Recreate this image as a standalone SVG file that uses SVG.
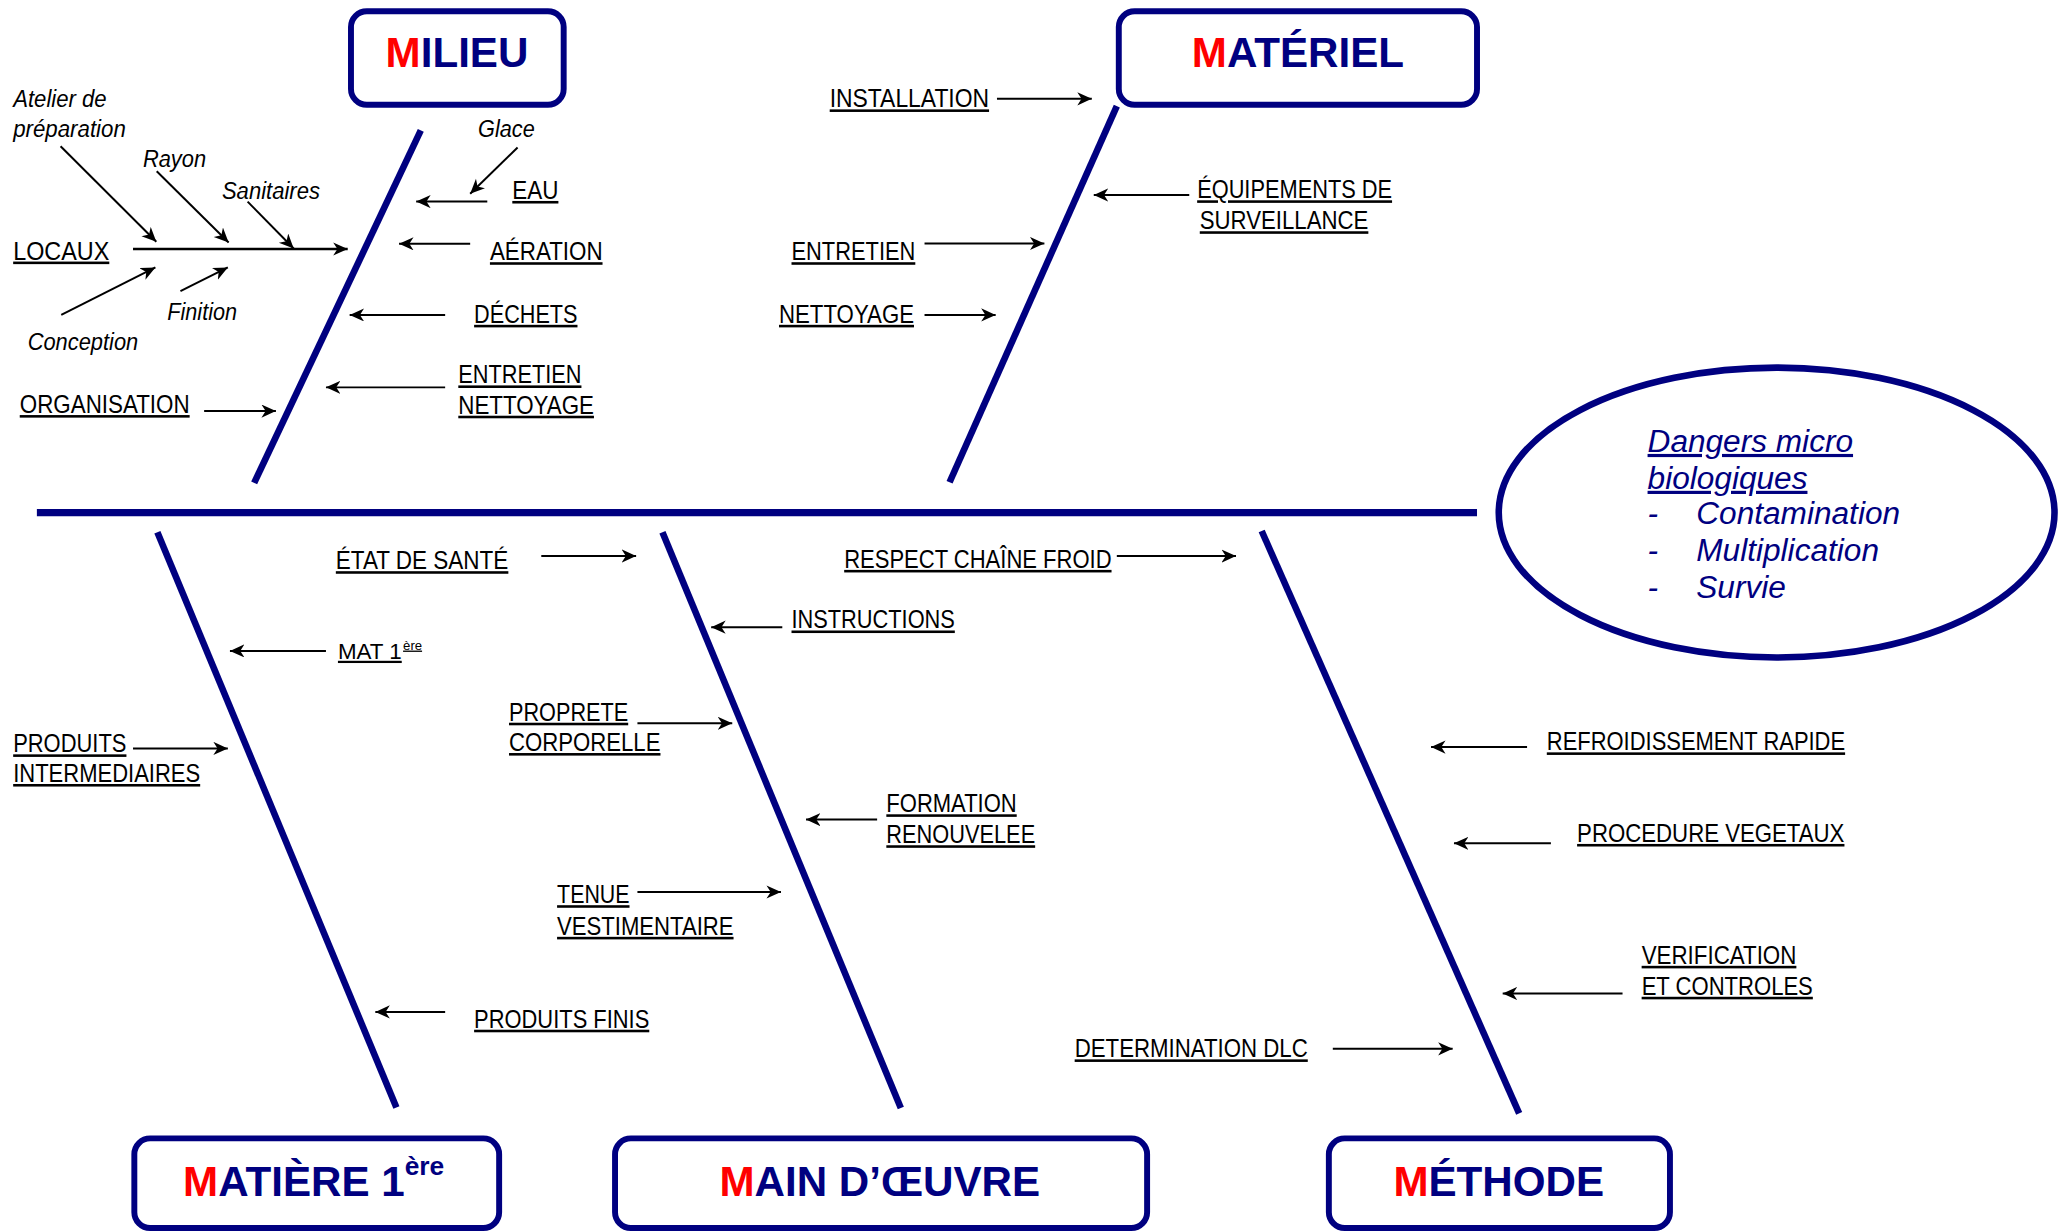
<svg xmlns="http://www.w3.org/2000/svg" width="2065" height="1232" viewBox="0 0 2065 1232">
<style>
.box{fill:#fff;stroke:#000080;stroke-width:4.5}
.title{font-family:"Liberation Sans",Arial,sans-serif;font-weight:bold;font-size:32px;fill:#000080}
.red{fill:#ff0000}
.lbl{font-family:"Liberation Sans Narrow","Liberation Sans",Arial,sans-serif;font-size:19.5px;fill:#000;text-decoration:underline}
.it{font-family:"Liberation Sans Narrow","Liberation Sans",Arial,sans-serif;font-style:italic;font-size:18.5px;fill:#000}
.bone{stroke:#000080;stroke-width:5;fill:none}
.arr{stroke:#000;stroke-width:1.5;fill:none;marker-end:url(#ah)}
.eff{font-family:"Liberation Sans",Arial,sans-serif;font-style:italic;font-size:24px;fill:#000080}
.ell{fill:#fff;stroke:#000080;stroke-width:5}
</style>
<defs>
<marker id="ah" markerUnits="userSpaceOnUse" markerWidth="12" markerHeight="11" refX="11" refY="5" orient="auto" viewBox="0 0 12 11">
<path d="M0,0 L11,5 L0,10 L3.2,5 Z" fill="#000"/>
</marker>
</defs>
<rect width="2065" height="1232" fill="#fff"/>
<g transform="scale(1.317,1.3176)">
<g id="connectors">
<line class="bone" x1="28" y1="389" x2="1121.5" y2="389" style="stroke-width:5.5"/>
<line class="bone" x1="319.5" y1="99" x2="193" y2="366.5"/>
<line class="bone" x1="848" y1="80.5" x2="721" y2="366"/>
<line class="bone" x1="119.5" y1="404" x2="301" y2="840.5"/>
<line class="bone" x1="503" y1="404" x2="684" y2="841"/>
<line class="bone" x1="958" y1="403" x2="1153.5" y2="845"/>
<line class="arr" x1="101" y1="189" x2="264" y2="189" style="stroke-width:2"/>
<line class="arr" x1="46" y1="111" x2="118.7" y2="183.5"/>
<line class="arr" x1="119" y1="130" x2="173.6" y2="184"/>
<line class="arr" x1="188" y1="153" x2="223" y2="188.6"/>
<line class="arr" x1="46.5" y1="239" x2="118" y2="203"/>
<line class="arr" x1="137" y1="221" x2="173" y2="203"/>
<line class="arr" x1="393" y1="112" x2="357" y2="147"/>
<line class="arr" x1="370" y1="153" x2="316" y2="153"/>
<line class="arr" x1="357" y1="185" x2="303" y2="185"/>
<line class="arr" x1="338" y1="239" x2="265.5" y2="239"/>
<line class="arr" x1="338" y1="294" x2="247.5" y2="294"/>
<line class="arr" x1="155" y1="312" x2="209.5" y2="312"/>
<line class="arr" x1="757" y1="75" x2="829" y2="75"/>
<line class="arr" x1="903" y1="148" x2="830.5" y2="148"/>
<line class="arr" x1="702" y1="184.8" x2="793" y2="184.8"/>
<line class="arr" x1="702" y1="239" x2="756" y2="239"/>
<line class="arr" x1="247.5" y1="494" x2="174.6" y2="494"/>
<line class="arr" x1="101" y1="568" x2="173" y2="568"/>
<line class="arr" x1="338" y1="768" x2="285" y2="768"/>
<line class="arr" x1="411" y1="422" x2="483" y2="422"/>
<line class="arr" x1="594" y1="476" x2="540" y2="476"/>
<line class="arr" x1="484" y1="549" x2="556" y2="549"/>
<line class="arr" x1="666" y1="622" x2="612" y2="622"/>
<line class="arr" x1="484" y1="677" x2="593" y2="677"/>
<line class="arr" x1="848" y1="422" x2="938.5" y2="422"/>
<line class="arr" x1="1159.5" y1="567" x2="1086.6" y2="567"/>
<line class="arr" x1="1177.6" y1="640" x2="1104" y2="640"/>
<line class="arr" x1="1232" y1="754" x2="1141" y2="754"/>
<line class="arr" x1="1012" y1="796" x2="1103" y2="796"/>
</g>
<g id="milieu">
<rect class="box" x="266.5" y="8.5" width="161.5" height="71" rx="12"/>
<text class="title" x="347" y="51" text-anchor="middle"><tspan class="red">M</tspan>ILIEU</text>
</g>
<g id="materiel">
<rect class="box" x="849.5" y="8.5" width="272" height="71" rx="12"/>
<text class="title" x="985.5" y="51" text-anchor="middle"><tspan class="red">M</tspan>ATÉRIEL</text>
</g>
<g id="matiere">
<rect class="box" x="102" y="864" width="277" height="68" rx="12"/>
<text class="title" x="139" y="908"><tspan class="red">M</tspan>ATIÈRE 1<tspan font-size="20" dy="-16">ère</tspan></text>
</g>
<g id="main-oeuvre">
<rect class="box" x="467" y="864" width="404" height="68" rx="12"/>
<text class="title" x="668" y="908" text-anchor="middle"><tspan class="red">M</tspan>AIN D’ŒUVRE</text>
</g>
<g id="methode">
<rect class="box" x="1009" y="864" width="259" height="68" rx="12"/>
<text class="title" x="1138" y="908" text-anchor="middle"><tspan class="red">M</tspan>ÉTHODE</text>
</g>
<g id="effet">
<ellipse class="ell" cx="1349" cy="389" rx="211" ry="110"/>
<text class="eff" x="1251" y="343" text-decoration="underline">Dangers micro</text>
<text class="eff" x="1251" y="371" text-decoration="underline">biologiques</text>
<text class="eff" x="1251" y="398">-</text><text class="eff" x="1288" y="398">Contamination</text>
<text class="eff" x="1251" y="426">-</text><text class="eff" x="1288" y="426">Multiplication</text>
<text class="eff" x="1251" y="454">-</text><text class="eff" x="1288" y="454">Survie</text>
</g>
<g id="locaux">
<text class="lbl" x="10" y="197" textLength="73" lengthAdjust="spacingAndGlyphs">LOCAUX</text>
<text class="it" x="10" y="81" textLength="71" lengthAdjust="spacingAndGlyphs">Atelier de</text>
<text class="it" x="10" y="104" textLength="85.5" lengthAdjust="spacingAndGlyphs">préparation</text>
<text class="it" x="108.5" y="127" textLength="48" lengthAdjust="spacingAndGlyphs">Rayon</text>
<text class="it" x="168.5" y="151" textLength="74.5" lengthAdjust="spacingAndGlyphs">Sanitaires</text>
<text class="it" x="21" y="266" textLength="84" lengthAdjust="spacingAndGlyphs">Conception</text>
<text class="it" x="127" y="243" textLength="53" lengthAdjust="spacingAndGlyphs">Finition</text>
</g>
<g id="organisation"><text class="lbl" x="15" y="313.5" textLength="129" lengthAdjust="spacingAndGlyphs">ORGANISATION</text></g>
<g id="eau">
<text class="it" x="363" y="104" textLength="43" lengthAdjust="spacingAndGlyphs">Glace</text>
<text class="lbl" x="389" y="151" textLength="35" lengthAdjust="spacingAndGlyphs">EAU</text>
</g>
<g id="aeration"><text class="lbl" x="372" y="197.5" textLength="85.5" lengthAdjust="spacingAndGlyphs">AÉRATION</text></g>
<g id="dechets"><text class="lbl" x="360" y="245" textLength="78.5" lengthAdjust="spacingAndGlyphs">DÉCHETS</text></g>
<g id="entretien-nettoyage">
<text class="lbl" x="348" y="291" textLength="93.5" lengthAdjust="spacingAndGlyphs">ENTRETIEN</text>
<text class="lbl" x="348" y="314" textLength="103" lengthAdjust="spacingAndGlyphs">NETTOYAGE</text>
</g>
<g id="installation"><text class="lbl" x="630" y="81.5" textLength="121" lengthAdjust="spacingAndGlyphs">INSTALLATION</text></g>
<g id="equipements">
<text class="lbl" x="909" y="150.5" textLength="148" lengthAdjust="spacingAndGlyphs">ÉQUIPEMENTS DE</text>
<text class="lbl" x="911" y="174" textLength="128" lengthAdjust="spacingAndGlyphs">SURVEILLANCE</text>
</g>
<g id="entretien"><text class="lbl" x="601" y="197.5" textLength="94" lengthAdjust="spacingAndGlyphs">ENTRETIEN</text></g>
<g id="nettoyage"><text class="lbl" x="591.5" y="245" textLength="102.5" lengthAdjust="spacingAndGlyphs">NETTOYAGE</text></g>
<g id="mat1ere"><text class="lbl" x="256.6" y="500" style="font-family:'Liberation Sans',Arial,sans-serif;font-size:17px">MAT 1<tspan font-size="10" dx="1" dy="-7">ère</tspan></text></g>
<g id="produits-intermediaires">
<text class="lbl" x="10" y="571" textLength="86" lengthAdjust="spacingAndGlyphs">PRODUITS</text>
<text class="lbl" x="10" y="593.5" textLength="142" lengthAdjust="spacingAndGlyphs">INTERMEDIAIRES</text>
</g>
<g id="produits-finis"><text class="lbl" x="360" y="780" textLength="133" lengthAdjust="spacingAndGlyphs">PRODUITS FINIS</text></g>
<g id="etat-sante"><text class="lbl" x="255" y="432" textLength="131" lengthAdjust="spacingAndGlyphs">ÉTAT DE SANTÉ</text></g>
<g id="instructions"><text class="lbl" x="601" y="477" textLength="124" lengthAdjust="spacingAndGlyphs">INSTRUCTIONS</text></g>
<g id="proprete">
<text class="lbl" x="386.5" y="547" textLength="90.5" lengthAdjust="spacingAndGlyphs">PROPRETE</text>
<text class="lbl" x="386.5" y="570" textLength="115" lengthAdjust="spacingAndGlyphs">CORPORELLE</text>
</g>
<g id="formation">
<text class="lbl" x="673" y="616.5" textLength="99" lengthAdjust="spacingAndGlyphs">FORMATION</text>
<text class="lbl" x="673" y="640" textLength="113" lengthAdjust="spacingAndGlyphs">RENOUVELEE</text>
</g>
<g id="tenue">
<text class="lbl" x="423" y="685.5" textLength="55" lengthAdjust="spacingAndGlyphs">TENUE</text>
<text class="lbl" x="423" y="709.5" textLength="134" lengthAdjust="spacingAndGlyphs">VESTIMENTAIRE</text>
</g>
<g id="chaine-froid"><text class="lbl" x="641" y="431" textLength="203" lengthAdjust="spacingAndGlyphs">RESPECT CHAÎNE FROID</text></g>
<g id="refroidissement"><text class="lbl" x="1174.5" y="569.5" textLength="226.5" lengthAdjust="spacingAndGlyphs">REFROIDISSEMENT RAPIDE</text></g>
<g id="vegetaux"><text class="lbl" x="1197.5" y="639" textLength="203" lengthAdjust="spacingAndGlyphs">PROCEDURE VEGETAUX</text></g>
<g id="verification">
<text class="lbl" x="1246.5" y="731.5" textLength="117.5" lengthAdjust="spacingAndGlyphs">VERIFICATION</text>
<text class="lbl" x="1246.5" y="755" textLength="130" lengthAdjust="spacingAndGlyphs">ET CONTROLES</text>
</g>
<g id="dlc"><text class="lbl" x="816" y="802.5" textLength="177" lengthAdjust="spacingAndGlyphs">DETERMINATION DLC</text></g>
</g>
</svg>
